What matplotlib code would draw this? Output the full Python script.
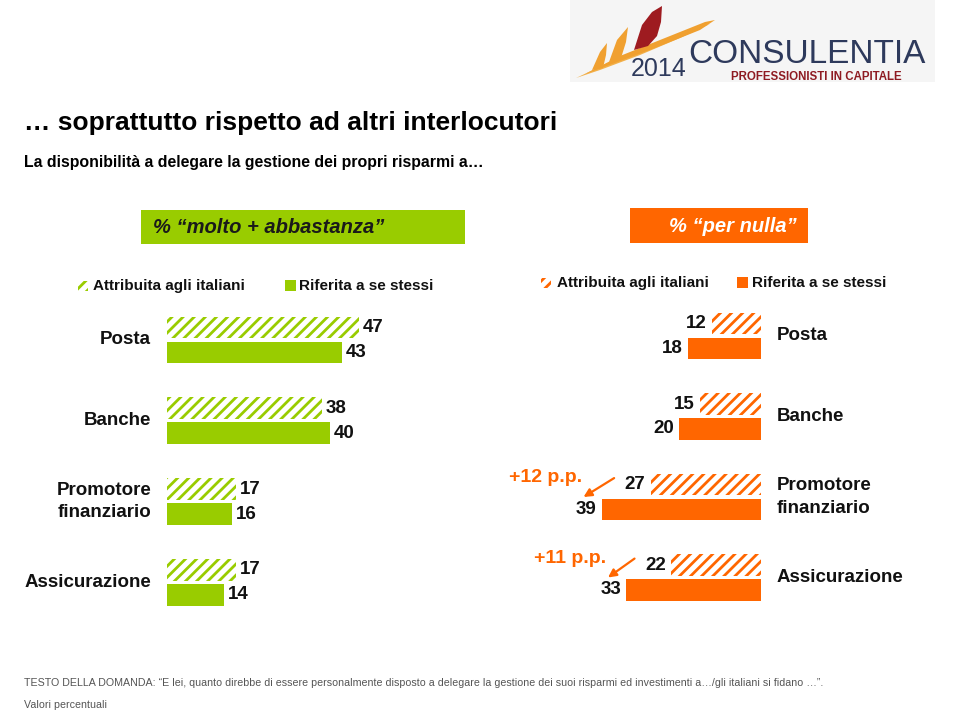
import matplotlib
matplotlib.use('Agg')
import matplotlib.pyplot as plt
from matplotlib.patches import Rectangle, Polygon
import numpy as np

plt.rcParams['font.family'] = ['Liberation Sans', 'DejaVu Sans']
plt.rcParams['hatch.linewidth'] = 2.0

# ---------------- data ----------------
categories = ['Posta', 'Banche', 'Promotore\nfinanziario', 'Assicurazione']
molto_attribuita = [47, 38, 17, 17]   # % molto + abbastanza, attribuita agli italiani
molto_riferita = [43, 40, 16, 14]     # % molto + abbastanza, riferita a se stessi
nulla_attribuita = [12, 15, 27, 22]   # % per nulla, attribuita agli italiani
nulla_riferita = [18, 20, 39, 33]     # % per nulla, riferita a se stessi
legend_labels = ['Attribuita agli italiani', 'Riferita a se stessi']
highlight_idx = [2, 3]                # categories with "+x p.p." callouts

GREEN = '#99CC00'
ORANGE = '#FF6600'
NAVY = '#2E3A5C'
DARKRED = '#8E1B22'

W, H = 959, 713
fig = plt.figure(figsize=(W / 100, H / 100), dpi=100)


def fx(x):
    return x / W


def fy(y):
    return 1 - y / H


def make_ax(left_px, top_px, width_px, height_px):
    ax = fig.add_axes([fx(left_px), fy(top_px + height_px), width_px / W, height_px / H])
    ax.set_axis_off()
    return ax


scale = 4.08
xmax = 60
axL = make_ax(167, 299.6, xmax * scale, 4 * 80.8)
axL.set_xlim(0, xmax)
axL.set_ylim(3.5, -0.5)
axR = make_ax(761 - xmax * scale, 295.75, xmax * scale, 4 * 80.5)
axR.set_xlim(xmax, 0)
axR.set_ylim(3.5, -0.5)

y = np.arange(len(categories))
bh = 0.27
off = 0.155
lab_fs = 13.5
LS = 1.43

# green side
axL.barh(y - off, molto_attribuita, height=bh, color='white', edgecolor=GREEN,
         hatch='///', linewidth=0)
axL.barh(y + off, molto_riferita, height=bh, color=GREEN, linewidth=0)
for i in range(len(categories)):
    axL.text(molto_attribuita[i] + 0.9, y[i] - off, str(molto_attribuita[i]),
             ha='left', va='center', fontsize=lab_fs, fontweight='bold', color='#111111')
    axL.text(molto_riferita[i] + 0.9, y[i] + off, str(molto_riferita[i]),
             ha='left', va='center', fontsize=lab_fs, fontweight='bold', color='#111111')
    axL.text(-3.9, y[i], categories[i], ha='right', va='center', fontsize=lab_fs,
             fontweight='bold', linespacing=LS, color='#111111')

# orange side
axR.barh(y - off, nulla_attribuita, height=bh, color='white', edgecolor=ORANGE,
         hatch='///', linewidth=0)
axR.barh(y + off, nulla_riferita, height=bh, color=ORANGE, linewidth=0)
for i in range(len(categories)):
    axR.text(nulla_attribuita[i] + 1.3, y[i] - off, str(nulla_attribuita[i]),
             ha='right', va='center', fontsize=lab_fs, fontweight='bold', color='#111111')
    axR.text(nulla_riferita[i] + 1.3, y[i] + off, str(nulla_riferita[i]),
             ha='right', va='center', fontsize=lab_fs, fontweight='bold', color='#111111')
    axR.text(-3.9, y[i], categories[i], ha='left', va='center', fontsize=lab_fs,
             fontweight='bold', linespacing=LS, color='#111111')

# callouts
for i in highlight_idx:
    diff = nulla_riferita[i] - nulla_attribuita[i]
    axR.text(nulla_riferita[i] + 13.8, y[i] - 0.24, '+%d p.p.' % diff, ha='center',
             va='center', fontsize=14, fontweight='bold', color=ORANGE)
    axR.annotate('', xy=(nulla_riferita[i] + 4.5, y[i] - 0.0),
                 xytext=(nulla_attribuita[i] + 9.0, y[i] - 0.235),
                 arrowprops=dict(arrowstyle='-|>', color=ORANGE, lw=1.6,
                                 mutation_scale=12, shrinkA=0, shrinkB=0))

# ---------------- titles ----------------
fig.text(fx(24), fy(123), '\u2026 soprattutto rispetto ad altri interlocutori',
         ha='left', va='center', fontsize=19, fontweight='bold', color='#000000')
fig.text(fx(24), fy(162), 'La disponibilit\u00e0 a delegare la gestione dei propri risparmi a\u2026',
         ha='left', va='center', fontsize=11.4, fontweight='bold', color='#000000')

# header boxes
fig.patches.append(Rectangle((fx(141), fy(244)), (465 - 141) / W, (244 - 210) / H,
                             transform=fig.transFigure, facecolor=GREEN, edgecolor='none'))
fig.text(fx(153), fy(227), '% \u201cmolto + abbastanza\u201d', ha='left', va='center',
         fontsize=14.5, fontweight='bold', style='italic', color='#1A1A1A')
fig.patches.append(Rectangle((fx(630), fy(243)), (808 - 630) / W, (243 - 208) / H,
                             transform=fig.transFigure, facecolor=ORANGE, edgecolor='none'))
fig.text(fx(733), fy(226), '% \u201cper nulla\u201d', ha='center', va='center',
         fontsize=14.5, fontweight='bold', style='italic', color='white')


# legends
def legend(xh, xs, yc, color, xt1, xt2):
    fig.patches.append(Rectangle((fx(xh), fy(yc + 5)), 10 / W, 10 / H, transform=fig.transFigure,
                                 facecolor='white', edgecolor=color, hatch='///', linewidth=0))
    fig.text(fx(xt1), fy(yc), legend_labels[0], ha='left', va='center', fontsize=11,
             fontweight='bold', color='#111111')
    fig.patches.append(Rectangle((fx(xs), fy(yc + 5)), 11 / W, 11 / H, transform=fig.transFigure,
                                 facecolor=color, edgecolor='none'))
    fig.text(fx(xt2), fy(yc), legend_labels[1], ha='left', va='center', fontsize=11,
             fontweight='bold', color='#111111')


legend(78, 285, 286, GREEN, 93, 299)
legend(541, 737, 283, ORANGE, 557, 752)

# footer
fig.text(fx(24), fy(683),
         'TESTO DELLA DOMANDA: \u201cE lei, quanto direbbe di essere personalmente disposto a delegare '
         'la gestione dei suoi risparmi ed investimenti a\u2026/gli italiani si fidano \u2026\u201d.',
         ha='left', va='center', fontsize=7.65, color='#555555')
fig.text(fx(24), fy(705), 'Valori percentuali', ha='left', va='center', fontsize=7.65,
         color='#555555')

# ---------------- logo ----------------
fig.patches.append(Rectangle((fx(570), fy(82)), (935 - 570) / W, 82 / H,
                             transform=fig.transFigure, facecolor='#F5F5F5', edgecolor='none'))


def poly(pts, color):
    fig.patches.append(Polygon([(fx(a), fy(b)) for a, b in pts], closed=True,
                               transform=fig.transFigure, facecolor=color, edgecolor='none'))


# swooshes
poly([(576, 78), (610, 62), (650, 45), (690, 30), (710, 24), (680, 38), (640, 55), (600, 70)], '#F2B04A')
poly([(585, 74), (620, 56), (660, 40), (705, 22), (715, 20), (700, 30), (655, 48), (612, 64)], '#F0A030')
# flames
poly([(592, 70), (600, 52), (607, 43), (606, 55), (603, 68)], '#F0A030')
poly([(609, 62), (617, 40), (628, 27), (626, 42), (621, 58)], '#F0A030')
poly([(634, 50), (642, 25), (652, 12), (662, 6), (661, 22), (657, 36), (648, 46)], '#9E1B20')
fig.text(fx(688), fy(63), 'CONSULENTIA', ha='left', va='baseline', fontsize=24,
         color=NAVY)
fig.text(fx(686), fy(76), '2014', ha='right', va='baseline', fontsize=18, color=NAVY)
fig.text(fx(731), fy(79.5), 'PROFESSIONISTI IN CAPITALE', ha='left', va='baseline',
         fontsize=8.3, fontweight='bold', color=DARKRED)

fig.savefig('out.png', dpi=100)
